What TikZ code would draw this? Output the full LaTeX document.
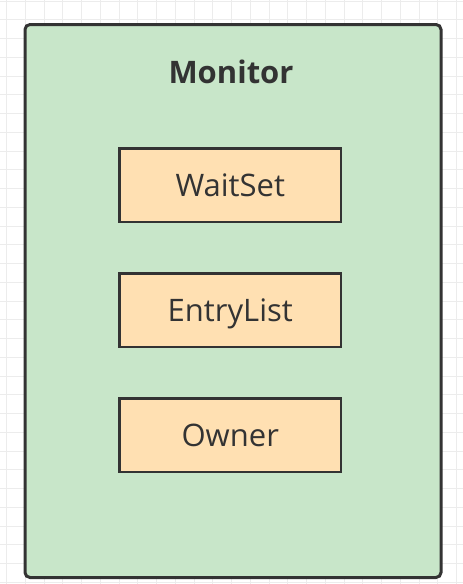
\documentclass[tikz,border=0pt]{standalone}
\usepackage{fontspec}
\setmainfont{Open Sans}
\usepackage{tikz}
\usetikzlibrary{positioning}

\definecolor{monitorgreen}{RGB}{200,230,201}
\definecolor{fieldorange}{RGB}{255,224,178}
\definecolor{inkgray}{RGB}{51,51,51}
\definecolor{gridgray}{RGB}{236,236,236}

\begin{document}
\begin{tikzpicture}[x=1pt,y=-1pt,
	gridline/.style = {draw=gridgray,line width=1pt},
	container/.style = {draw=inkgray,fill=monitorgreen,line width=3pt,rounded corners=5pt},
	field/.style = {draw=inkgray,fill=fieldorange,line width=2.2pt,minimum width=221.5pt,minimum height=73.5pt,inner sep=0pt,text=inkgray,font=\fontsize{31}{36}\selectfont,text height=22pt,text depth=0pt}
	]
	\useasboundingbox (0,0) rectangle (463,584);
	%GRIGLIA
	\fill[white] (0,0) rectangle (463,584);
	\begin{scope}[shift={(6.7,1)}]
		\draw[gridline,step=18.75pt] (-18.75,-18.75) grid (470,600);
	\end{scope}
	%MONITOR
	\draw[container] (25,24.5) rectangle (441,577.5);
	\node[text=inkgray,font=\bfseries\fontsize{31}{36}\selectfont,anchor=base] (monitor) at (231,83.3) {Monitor};
	%CAMPI
	\node[field] (waitset) at (230.25,185.25) {WaitSet};
	\node[field] (entrylist) at (230.25,310.25) {EntryList};
	\node[field] (owner) at (230.25,435.25) {Owner};
\end{tikzpicture}
\end{document}
